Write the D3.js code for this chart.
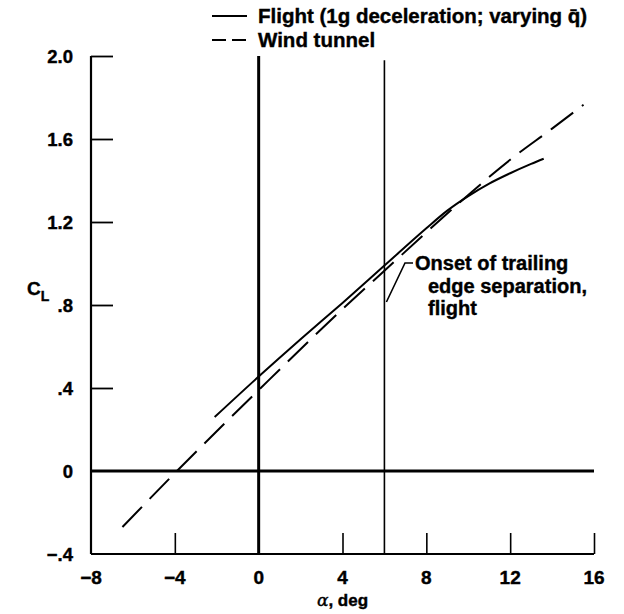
<!DOCTYPE html>
<html><head><meta charset="utf-8">
<script src="https://cdn.jsdelivr.net/npm/d3@7"></script>
<style>
html,body{margin:0;padding:0;background:#fff;}
text{font-family:"Liberation Sans",Arial,sans-serif;font-weight:bold;fill:#000;stroke:#000;stroke-width:0.4px;}
</style></head>
<body><svg id="c" width="624" height="614"></svg>
<script>
const xTicks = [-8, -4, 0, 4, 8, 12, 16];
const xTickLabels = ["\u22128", "\u22124", "0", "4", "8", "12", "16"];
const yTicks = [-0.4, 0, 0.4, 0.8, 1.2, 1.6, 2.0];
const yTickLabels = ["\u2212.4", "0", ".4", ".8", "1.2", "1.6", "2.0"];
const flightAlpha = [-2.1, 0, 2, 4, 6, 8, 9, 10, 11, 12, 13, 13.6];
const flightCL    = [0.26, 0.455, 0.635, 0.81, 0.99, 1.17, 1.255, 1.325, 1.385, 1.435, 1.48, 1.505];
const tunnelAlpha = [-6.5, -3.9, 0, 4, 6, 8, 10, 12, 14, 15.5];
const tunnelCL    = [-0.27, 0, 0.39, 0.78, 0.965, 1.15, 1.33, 1.50, 1.65, 1.765];
const legendLabels = ["Flight (1g deceleration; varying q\u0304)", "Wind tunnel"];
const annotationLines = ["Onset of trailing", "edge separation,", "flight"];
const onsetAlpha = 6;

const svg = d3.select("#c");
const x = d3.scaleLinear().domain([-8, 16]).range([91, 594]);
const y = d3.scaleLinear().domain([-0.4, 2.0]).range([554, 56]);

// Left axis
const yAxis = d3.axisRight(y).tickValues(yTicks.filter(v => v > 0)).tickSize(22).tickFormat("");
const gy = svg.append("g").attr("transform", `translate(${x(-8)},0)`).call(yAxis);
gy.select(".domain").remove();
gy.selectAll(".tick line").attr("stroke", "#000").attr("stroke-width", 1.8);
svg.append("line").attr("x1", x(-8)).attr("x2", x(-8)).attr("y1", y(2.0)).attr("y2", y(-0.4))
  .attr("stroke", "#000").attr("stroke-width", 2.2);

// Bottom axis
const xAxis = d3.axisTop(x).tickValues(xTicks.filter(v => v !== -8 && v !== 0)).tickSize(21).tickFormat("");
const gx = svg.append("g").attr("transform", `translate(0,${y(-0.4)})`).call(xAxis);
gx.select(".domain").remove();
gx.selectAll(".tick line").attr("stroke", "#000").attr("stroke-width", 1.6);
svg.append("line").attr("x1", x(-8)).attr("x2", x(16)).attr("y1", y(-0.4)).attr("y2", y(-0.4))
  .attr("stroke", "#000").attr("stroke-width", 2.2);

// Tick labels
svg.append("g").selectAll("text").data(yTicks).join("text")
  .attr("x", 73).attr("y", d => y(d)).attr("dy", "0.36em")
  .attr("text-anchor", "end").attr("font-size", 18.5)
  .text((d, i) => yTickLabels[i]);
svg.append("g").selectAll("text").data(xTicks).join("text")
  .attr("x", d => x(d)).attr("y", 584)
  .attr("text-anchor", "middle").attr("font-size", 19)
  .text((d, i) => xTickLabels[i]);

// Axis titles
const xt = svg.append("text").attr("x", x(4)).attr("y", 606).attr("text-anchor", "middle").attr("font-size", 17);
xt.append("tspan").attr("font-style", "italic").attr("font-weight", "normal").attr("font-family", "DejaVu Serif").text("\u03b1");
xt.append("tspan").text(", deg");
const yt = svg.append("text").attr("x", 27).attr("y", 295).attr("font-size", 19);
yt.append("tspan").text("C");
yt.append("tspan").attr("dy", 6).attr("font-size", 14).text("L");

// Reference lines
svg.append("line").attr("x1", x(0)).attr("x2", x(0)).attr("y1", y(2.0)).attr("y2", y(-0.4))
  .attr("stroke", "#000").attr("stroke-width", 3);
svg.append("line").attr("x1", x(onsetAlpha)).attr("x2", x(onsetAlpha)).attr("y1", y(1.98)).attr("y2", y(-0.4))
  .attr("stroke", "#000").attr("stroke-width", 1.6);
svg.append("line").attr("x1", x(-8)).attr("x2", x(16)).attr("y1", y(0)).attr("y2", y(0))
  .attr("stroke", "#000").attr("stroke-width", 3);

// Curves
const line = d3.line().x(d => x(d[0])).y(d => y(d[1])).curve(d3.curveMonotoneX);
svg.append("path").datum(flightAlpha.map((a, i) => [a, flightCL[i]]))
  .attr("d", line).attr("fill", "none").attr("stroke", "#000").attr("stroke-width", 2);
svg.append("path").datum(tunnelAlpha.map((a, i) => [a, tunnelCL[i]]))
  .attr("d", line).attr("fill", "none").attr("stroke", "#000").attr("stroke-width", 2)
  .attr("stroke-dasharray", "28,11");

// Annotation
svg.append("polyline")
  .attr("points", [[413, 263], [405, 263], [x(onsetAlpha) + 2, 302]].map(p => p.join(",")).join(" "))
  .attr("fill", "none").attr("stroke", "#000").attr("stroke-width", 1.6);
svg.append("g").selectAll("text").data(annotationLines).join("text")
  .attr("x", (d, i) => i === 0 ? 415 : 428)
  .attr("y", (d, i) => 270 + i * 22.5)
  .attr("font-size", 20)
  .text(d => d);

// Legend
const leg = svg.append("g");
leg.selectAll("line").data(legendLabels).join("line")
  .attr("x1", 212).attr("x2", 247)
  .attr("y1", (d, i) => 16 + i * 24).attr("y2", (d, i) => 16 + i * 24)
  .attr("stroke", "#000").attr("stroke-width", 2)
  .attr("stroke-dasharray", (d, i) => i === 1 ? "14,6" : null);
leg.selectAll("text").data(legendLabels).join("text")
  .attr("x", 258).attr("y", (d, i) => 16 + i * 24).attr("dy", "0.36em")
  .attr("font-size", 20.5)
  .text(d => d);
</script></body></html>
